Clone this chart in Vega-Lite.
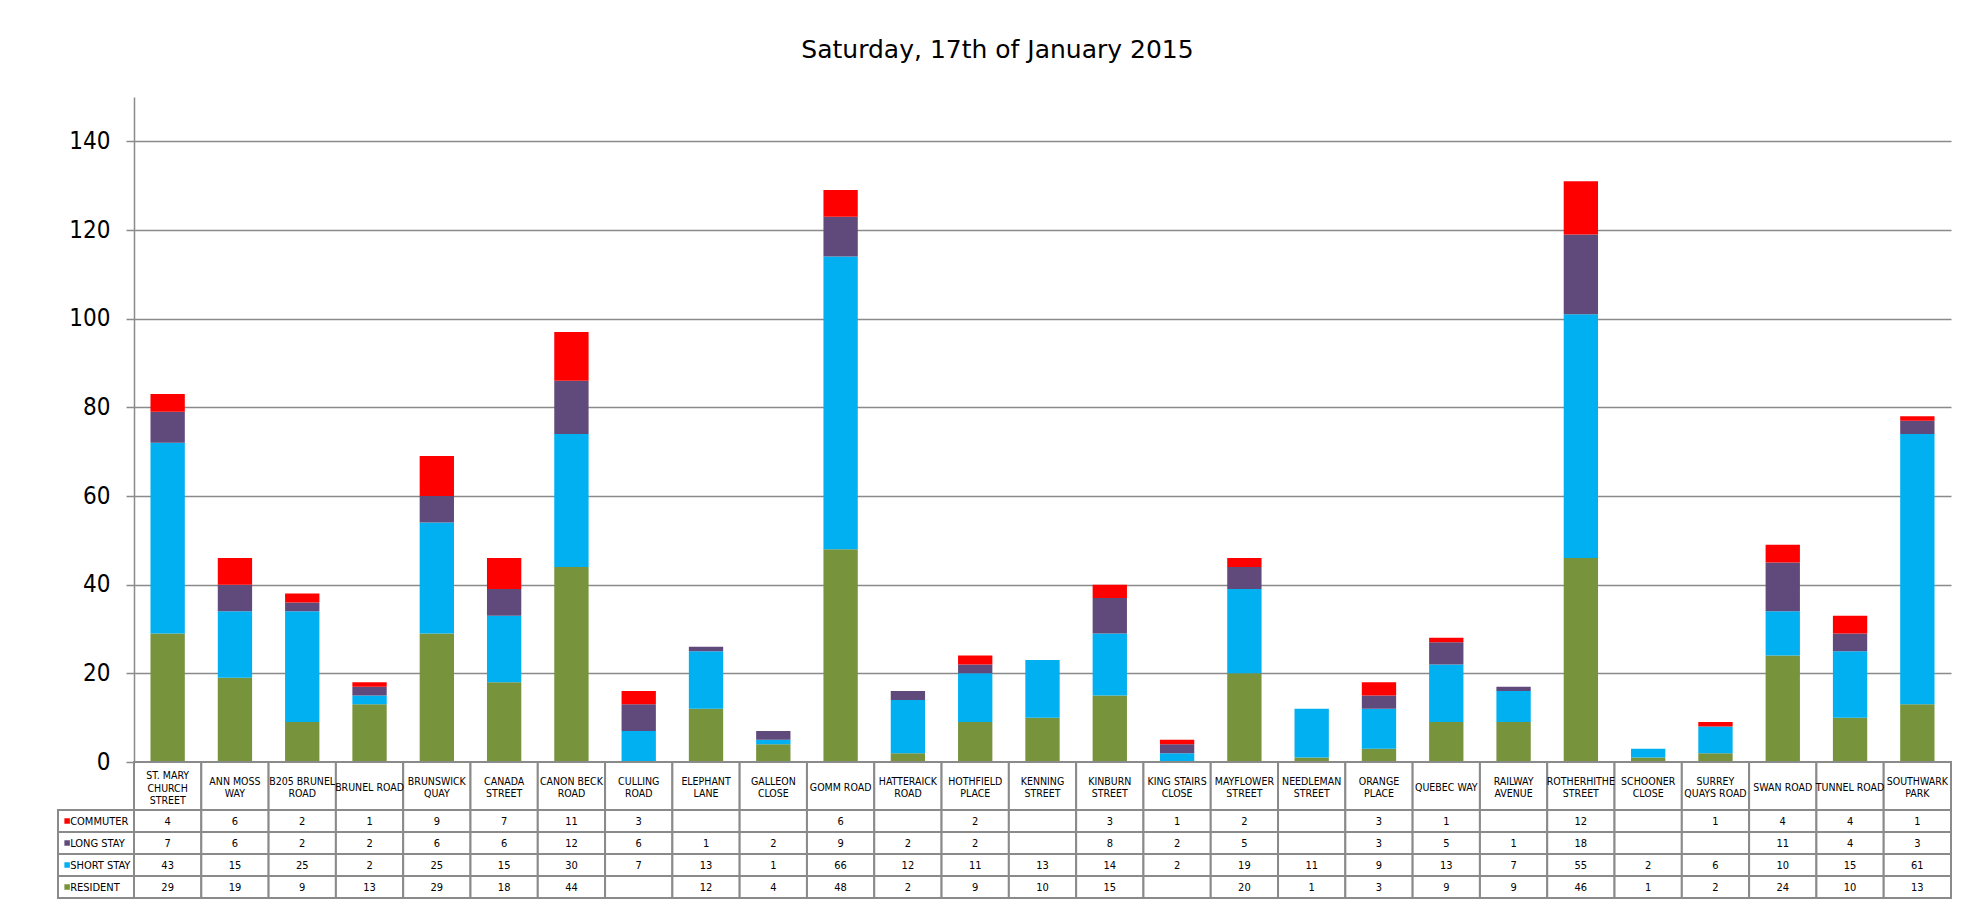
{
  "$schema": "https://vega.github.io/schema/vega-lite/v6.json",
  "width": 1893,
  "height": 801,
  "padding": {"left": 57, "top": 38, "right": 34, "bottom": 10},
  "background": "white",
  "title": {"text": "Saturday, 17th of January 2015", "font": "DejaVu Sans", "fontSize": 25, "fontWeight": "normal", "color": "#000000", "offset": 34, "dx": -7},
  "config": {"view": {"stroke": null}},
  "data": {"values": [
    {"category": "ST. MARY\nCHURCH\nSTREET", "series": "RESIDENT", "value": 29},
    {"category": "ST. MARY\nCHURCH\nSTREET", "series": "SHORT STAY", "value": 43},
    {"category": "ST. MARY\nCHURCH\nSTREET", "series": "LONG STAY", "value": 7},
    {"category": "ST. MARY\nCHURCH\nSTREET", "series": "COMMUTER", "value": 4},
    {"category": "ANN MOSS\nWAY", "series": "RESIDENT", "value": 19},
    {"category": "ANN MOSS\nWAY", "series": "SHORT STAY", "value": 15},
    {"category": "ANN MOSS\nWAY", "series": "LONG STAY", "value": 6},
    {"category": "ANN MOSS\nWAY", "series": "COMMUTER", "value": 6},
    {"category": "B205 BRUNEL\nROAD", "series": "RESIDENT", "value": 9},
    {"category": "B205 BRUNEL\nROAD", "series": "SHORT STAY", "value": 25},
    {"category": "B205 BRUNEL\nROAD", "series": "LONG STAY", "value": 2},
    {"category": "B205 BRUNEL\nROAD", "series": "COMMUTER", "value": 2},
    {"category": "BRUNEL ROAD", "series": "RESIDENT", "value": 13},
    {"category": "BRUNEL ROAD", "series": "SHORT STAY", "value": 2},
    {"category": "BRUNEL ROAD", "series": "LONG STAY", "value": 2},
    {"category": "BRUNEL ROAD", "series": "COMMUTER", "value": 1},
    {"category": "BRUNSWICK\nQUAY", "series": "RESIDENT", "value": 29},
    {"category": "BRUNSWICK\nQUAY", "series": "SHORT STAY", "value": 25},
    {"category": "BRUNSWICK\nQUAY", "series": "LONG STAY", "value": 6},
    {"category": "BRUNSWICK\nQUAY", "series": "COMMUTER", "value": 9},
    {"category": "CANADA\nSTREET", "series": "RESIDENT", "value": 18},
    {"category": "CANADA\nSTREET", "series": "SHORT STAY", "value": 15},
    {"category": "CANADA\nSTREET", "series": "LONG STAY", "value": 6},
    {"category": "CANADA\nSTREET", "series": "COMMUTER", "value": 7},
    {"category": "CANON BECK\nROAD", "series": "RESIDENT", "value": 44},
    {"category": "CANON BECK\nROAD", "series": "SHORT STAY", "value": 30},
    {"category": "CANON BECK\nROAD", "series": "LONG STAY", "value": 12},
    {"category": "CANON BECK\nROAD", "series": "COMMUTER", "value": 11},
    {"category": "CULLING\nROAD", "series": "RESIDENT", "value": null},
    {"category": "CULLING\nROAD", "series": "SHORT STAY", "value": 7},
    {"category": "CULLING\nROAD", "series": "LONG STAY", "value": 6},
    {"category": "CULLING\nROAD", "series": "COMMUTER", "value": 3},
    {"category": "ELEPHANT\nLANE", "series": "RESIDENT", "value": 12},
    {"category": "ELEPHANT\nLANE", "series": "SHORT STAY", "value": 13},
    {"category": "ELEPHANT\nLANE", "series": "LONG STAY", "value": 1},
    {"category": "ELEPHANT\nLANE", "series": "COMMUTER", "value": null},
    {"category": "GALLEON\nCLOSE", "series": "RESIDENT", "value": 4},
    {"category": "GALLEON\nCLOSE", "series": "SHORT STAY", "value": 1},
    {"category": "GALLEON\nCLOSE", "series": "LONG STAY", "value": 2},
    {"category": "GALLEON\nCLOSE", "series": "COMMUTER", "value": null},
    {"category": "GOMM ROAD", "series": "RESIDENT", "value": 48},
    {"category": "GOMM ROAD", "series": "SHORT STAY", "value": 66},
    {"category": "GOMM ROAD", "series": "LONG STAY", "value": 9},
    {"category": "GOMM ROAD", "series": "COMMUTER", "value": 6},
    {"category": "HATTERAICK\nROAD", "series": "RESIDENT", "value": 2},
    {"category": "HATTERAICK\nROAD", "series": "SHORT STAY", "value": 12},
    {"category": "HATTERAICK\nROAD", "series": "LONG STAY", "value": 2},
    {"category": "HATTERAICK\nROAD", "series": "COMMUTER", "value": null},
    {"category": "HOTHFIELD\nPLACE", "series": "RESIDENT", "value": 9},
    {"category": "HOTHFIELD\nPLACE", "series": "SHORT STAY", "value": 11},
    {"category": "HOTHFIELD\nPLACE", "series": "LONG STAY", "value": 2},
    {"category": "HOTHFIELD\nPLACE", "series": "COMMUTER", "value": 2},
    {"category": "KENNING\nSTREET", "series": "RESIDENT", "value": 10},
    {"category": "KENNING\nSTREET", "series": "SHORT STAY", "value": 13},
    {"category": "KENNING\nSTREET", "series": "LONG STAY", "value": null},
    {"category": "KENNING\nSTREET", "series": "COMMUTER", "value": null},
    {"category": "KINBURN\nSTREET", "series": "RESIDENT", "value": 15},
    {"category": "KINBURN\nSTREET", "series": "SHORT STAY", "value": 14},
    {"category": "KINBURN\nSTREET", "series": "LONG STAY", "value": 8},
    {"category": "KINBURN\nSTREET", "series": "COMMUTER", "value": 3},
    {"category": "KING STAIRS\nCLOSE", "series": "RESIDENT", "value": null},
    {"category": "KING STAIRS\nCLOSE", "series": "SHORT STAY", "value": 2},
    {"category": "KING STAIRS\nCLOSE", "series": "LONG STAY", "value": 2},
    {"category": "KING STAIRS\nCLOSE", "series": "COMMUTER", "value": 1},
    {"category": "MAYFLOWER\nSTREET", "series": "RESIDENT", "value": 20},
    {"category": "MAYFLOWER\nSTREET", "series": "SHORT STAY", "value": 19},
    {"category": "MAYFLOWER\nSTREET", "series": "LONG STAY", "value": 5},
    {"category": "MAYFLOWER\nSTREET", "series": "COMMUTER", "value": 2},
    {"category": "NEEDLEMAN\nSTREET", "series": "RESIDENT", "value": 1},
    {"category": "NEEDLEMAN\nSTREET", "series": "SHORT STAY", "value": 11},
    {"category": "NEEDLEMAN\nSTREET", "series": "LONG STAY", "value": null},
    {"category": "NEEDLEMAN\nSTREET", "series": "COMMUTER", "value": null},
    {"category": "ORANGE\nPLACE", "series": "RESIDENT", "value": 3},
    {"category": "ORANGE\nPLACE", "series": "SHORT STAY", "value": 9},
    {"category": "ORANGE\nPLACE", "series": "LONG STAY", "value": 3},
    {"category": "ORANGE\nPLACE", "series": "COMMUTER", "value": 3},
    {"category": "QUEBEC WAY", "series": "RESIDENT", "value": 9},
    {"category": "QUEBEC WAY", "series": "SHORT STAY", "value": 13},
    {"category": "QUEBEC WAY", "series": "LONG STAY", "value": 5},
    {"category": "QUEBEC WAY", "series": "COMMUTER", "value": 1},
    {"category": "RAILWAY\nAVENUE", "series": "RESIDENT", "value": 9},
    {"category": "RAILWAY\nAVENUE", "series": "SHORT STAY", "value": 7},
    {"category": "RAILWAY\nAVENUE", "series": "LONG STAY", "value": 1},
    {"category": "RAILWAY\nAVENUE", "series": "COMMUTER", "value": null},
    {"category": "ROTHERHITHE\nSTREET", "series": "RESIDENT", "value": 46},
    {"category": "ROTHERHITHE\nSTREET", "series": "SHORT STAY", "value": 55},
    {"category": "ROTHERHITHE\nSTREET", "series": "LONG STAY", "value": 18},
    {"category": "ROTHERHITHE\nSTREET", "series": "COMMUTER", "value": 12},
    {"category": "SCHOONER\nCLOSE", "series": "RESIDENT", "value": 1},
    {"category": "SCHOONER\nCLOSE", "series": "SHORT STAY", "value": 2},
    {"category": "SCHOONER\nCLOSE", "series": "LONG STAY", "value": null},
    {"category": "SCHOONER\nCLOSE", "series": "COMMUTER", "value": null},
    {"category": "SURREY\nQUAYS ROAD", "series": "RESIDENT", "value": 2},
    {"category": "SURREY\nQUAYS ROAD", "series": "SHORT STAY", "value": 6},
    {"category": "SURREY\nQUAYS ROAD", "series": "LONG STAY", "value": null},
    {"category": "SURREY\nQUAYS ROAD", "series": "COMMUTER", "value": 1},
    {"category": "SWAN ROAD", "series": "RESIDENT", "value": 24},
    {"category": "SWAN ROAD", "series": "SHORT STAY", "value": 10},
    {"category": "SWAN ROAD", "series": "LONG STAY", "value": 11},
    {"category": "SWAN ROAD", "series": "COMMUTER", "value": 4},
    {"category": "TUNNEL ROAD", "series": "RESIDENT", "value": 10},
    {"category": "TUNNEL ROAD", "series": "SHORT STAY", "value": 15},
    {"category": "TUNNEL ROAD", "series": "LONG STAY", "value": 4},
    {"category": "TUNNEL ROAD", "series": "COMMUTER", "value": 4},
    {"category": "SOUTHWARK\nPARK", "series": "RESIDENT", "value": 13},
    {"category": "SOUTHWARK\nPARK", "series": "SHORT STAY", "value": 61},
    {"category": "SOUTHWARK\nPARK", "series": "LONG STAY", "value": 3},
    {"category": "SOUTHWARK\nPARK", "series": "COMMUTER", "value": 1}
  ]},
  "layer": [
    {
      "transform": [{"aggregate": [{"op": "count", "as": "n"}], "groupby": ["series"]}],
      "encoding": {
        "y": {"field": "series", "type": "nominal", "scale": {"domain": ["COMMUTER", "LONG STAY", "SHORT STAY", "RESIDENT"], "range": [713, 801], "paddingInner": 0, "paddingOuter": 0}, "axis": null}
      },
      "layer": [
        {
          "mark": {"type": "rect", "fill": "white", "stroke": "#8a8a8a", "strokeWidth": 2},
          "encoding": {"x": {"datum": "legend", "type": "nominal", "scale": {"domain": ["legend"], "range": [0, 76], "paddingInner": 0, "paddingOuter": 0}, "axis": null}}
        },
        {
          "mark": {"type": "point", "shape": "square", "filled": true, "size": 30, "opacity": 1},
          "encoding": {
            "x": {"datum": "legend", "type": "nominal", "bandPosition": 0.12, "axis": null},
            "color": {"field": "series", "type": "nominal", "legend": null}
          }
        },
        {
          "mark": {"type": "text", "align": "left", "baseline": "middle", "dy": 1, "font": "'DejaVu Sans Condensed', 'Roboto Condensed', Roboto, sans-serif", "fontSize": 11, "color": "#000000"},
          "encoding": {
            "x": {"datum": "legend", "type": "nominal", "bandPosition": 0.16, "axis": null},
            "text": {"field": "series"}
          }
        }
      ]
    },
    {
      "encoding": {
        "x": {"field": "category", "type": "nominal", "sort": null, "scale": {"range": [76, 1893], "paddingInner": 0, "paddingOuter": 0}, "axis": null}
      },
      "layer": [
        {
          "mark": {"type": "bar", "width": {"band": 0.51}},
          "encoding": {
            "y": {"field": "value", "type": "quantitative", "stack": "zero", "scale": {"domain": [0, 150], "range": [665, 0], "nice": false}, "axis": {"values": [0, 20, 40, 60, 80, 100, 120, 140], "grid": true, "gridColor": "#8a8a8a", "gridWidth": 1.5, "domainColor": "#8a8a8a", "domainWidth": 1.5, "tickColor": "#8a8a8a", "tickWidth": 1.5, "tickSize": 8, "labelPadding": 16, "labelFont": "'DejaVu Sans Condensed', 'Roboto Condensed', Roboto, sans-serif", "labelFontSize": 24, "labelColor": "#000000", "title": null, "offset": -76}},
            "color": {"field": "series", "type": "nominal", "scale": {"domain": ["RESIDENT", "SHORT STAY", "LONG STAY", "COMMUTER"], "range": ["#77933C", "#00B0F0", "#604A7B", "#FF0000"]}, "legend": null},
            "order": {"field": "category", "type": "ordinal"}
          }
        },
        {
          "transform": [{"filter": "datum.series == 'RESIDENT'"}],
          "encoding": {
            "y": {"datum": "header", "type": "nominal", "scale": {"domain": ["header"], "range": [665, 713], "paddingInner": 0, "paddingOuter": 0}, "axis": null},
            "text": {"field": "category"}
          },
          "layer": [
            {"mark": {"type": "rect", "fill": "white", "stroke": "#8a8a8a", "strokeWidth": 2}},
            {
              "transform": [{"filter": "indexof(datum.category, '\\n') < 0"}],
              "mark": {"type": "text", "align": "center", "baseline": "middle", "dy": 2, "lineBreak": "\n", "lineHeight": 12, "font": "'DejaVu Sans Condensed', 'Roboto Condensed', Roboto, sans-serif", "fontSize": 10.5, "color": "#000000"}
            },
            {
              "transform": [{"filter": "indexof(datum.category, '\\n') >= 0 && indexof(datum.category, '\\n') == lastindexof(datum.category, '\\n')"}],
              "mark": {"type": "text", "align": "center", "baseline": "middle", "dy": -4, "lineBreak": "\n", "lineHeight": 12, "font": "'DejaVu Sans Condensed', 'Roboto Condensed', Roboto, sans-serif", "fontSize": 10.5, "color": "#000000"}
            },
            {
              "transform": [{"filter": "indexof(datum.category, '\\n') != lastindexof(datum.category, '\\n')"}],
              "mark": {"type": "text", "align": "center", "baseline": "middle", "dy": -10, "lineBreak": "\n", "lineHeight": 12.5, "font": "'DejaVu Sans Condensed', 'Roboto Condensed', Roboto, sans-serif", "fontSize": 10.5, "color": "#000000"}
            }
          ]
        },
        {
          "encoding": {
            "y": {"field": "series", "type": "nominal", "scale": {"domain": ["COMMUTER", "LONG STAY", "SHORT STAY", "RESIDENT"], "range": [713, 801], "paddingInner": 0, "paddingOuter": 0}, "axis": null}
          },
          "layer": [
            {"mark": {"type": "rect", "fill": "white", "stroke": "#8a8a8a", "strokeWidth": 2}},
            {
              "transform": [{"filter": "datum.value != null"}],
              "mark": {"type": "text", "align": "center", "baseline": "middle", "dy": 1, "font": "'DejaVu Sans Condensed', 'Roboto Condensed', Roboto, sans-serif", "fontSize": 11, "color": "#000000"},
              "encoding": {"text": {"field": "value", "type": "quantitative"}}
            }
          ]
        }
      ],
      "resolve": {"scale": {"y": "independent"}}
    }
  ],
  "resolve": {"scale": {"x": "independent", "y": "independent"}}
}
